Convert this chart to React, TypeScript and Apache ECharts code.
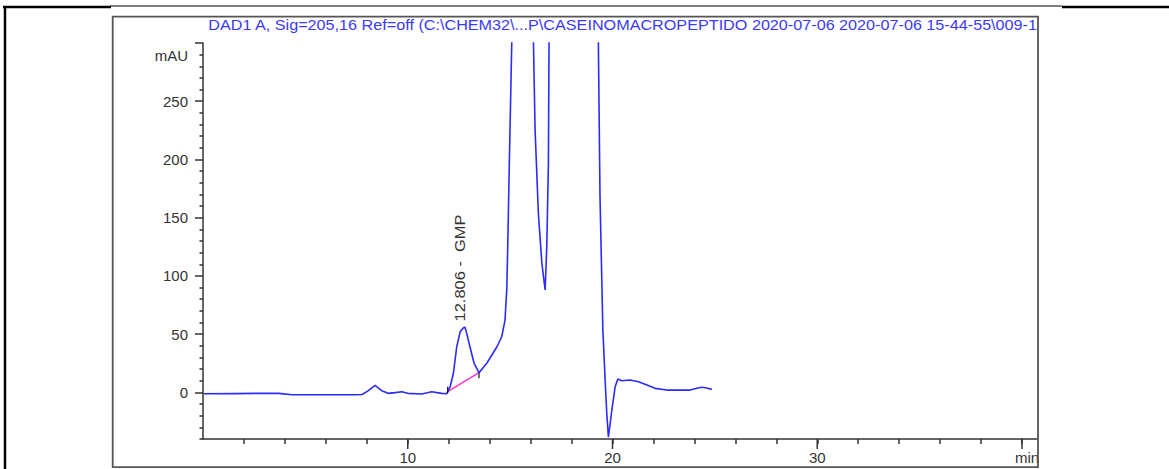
import React, { useEffect, useRef } from "react";
import * as echarts from "echarts";

const TITLE = "DAD1 A, Sig=205,16 Ref=off (C:\\CHEM32\\...P\\CASEINOMACROPEPTIDO 2020-07-06 2020-07-06 15-44-55\\009-1";
const PEAK_LABEL = "12.806 -  GMP";

const TIME = [0.05, 1.5, 2.9, 3.7, 4.35, 5.5, 7.4, 7.77, 8.08, 8.4, 8.73, 9.04, 9.38, 9.71, 10.0, 10.68, 11.17, 11.66, 11.9,
  11.95, 12.07, 12.23, 12.39, 12.56, 12.72, 12.8, 12.88, 13.04, 13.24, 13.48, 13.86, 14.35, 14.59, 14.75, 14.84, 14.9, 14.96, 15.08,
  15.2, 16.0, 16.14, 16.22, 16.38, 16.55, 16.71, 16.79, 16.87, 16.9, 17.0, 19.2, 19.31, 19.39, 19.53, 19.64, 19.72, 19.8, 19.97,
  20.13, 20.26, 20.45, 20.86, 21.27, 21.68, 22.08, 22.65, 23.3, 23.79, 24.12, 24.36, 24.6, 24.85];
const SIGNAL = [-1.2, -1.0, -0.8, -0.8, -2, -2, -2, -1.8, 1.5, 6, 1.5, -0.8, -0.2, 0.6, -0.8, -1.4, 0.6, -0.8, -1.2,
  0.6, 4.9, 16.4, 39, 52, 55.5, 56, 50.7, 39, 25, 16.9, 25, 39, 47.8, 62, 90, 140, 196, 300,
  700, 700, 300, 225, 153.7, 110.8, 88, 125, 196.6, 300, 700, 700, 300, 168, 53.6, 10.6, -18, -38.5, -15,
  4.9, 11.5, 10, 10.6, 9.2, 6.4, 3.5, 2, 2, 2, 3.5, 4.4, 3.8, 2.6];

const BASELINE_TIME = [11.95, 13.48];
const BASELINE_SIGNAL = [0.6, 16.9];
const START_TICK_TIME = [11.95, 11.95];
const START_TICK_SIGNAL = [4.9, -0.8];
const END_TICK_TIME = [13.48, 13.48];
const END_TICK_SIGNAL = [16.9, 12.1];

const Y_MIN = -40;
const Y_MAX = 300;
const X_MIN = 0;
const X_MAX = 40;
const Y_LABELS = [0, 50, 100, 150, 200, 250];
const Y_MAJOR_TICKS = [0, 50, 100, 150, 200, 250, 300];
const Y_MINOR_TICKS = [-40, -30, -20, -10, 10, 20, 30, 40, 60, 70, 80, 90, 110, 120, 130, 140, 160, 170, 180, 190,
  210, 220, 230, 240, 260, 270, 280, 290];
const X_LABELS = [10, 20, 30, 40];
const X_MAJOR_TICKS = [10, 20, 30, 40];
const X_ALL_TICKS = [2, 4, 6, 8, 10, 12, 14, 16, 18, 20, 22, 24, 26, 28, 30, 32, 34, 36, 38, 40];

const FONT = '"Liberation Sans", Arial, sans-serif';
const GRID_LEFT = 203;
const GRID_TOP = 43;
const GRID_W = 819;
const GRID_H = 396;
const BOX_RIGHT = 1038;

function pairs(xs: number[], ys: number[]) {
  return xs.map((x, i) => [x, ys[i]]);
}

function measure(text: string, size: number) {
  const c = document.createElement("canvas").getContext("2d");
  if (!c) return text.length * size * 0.55;
  c.font = `${size}px ${FONT}`;
  return c.measureText(text).width;
}

export default function App() {
  const ref = useRef<HTMLDivElement>(null);
  useEffect(() => {
    document.body.style.margin = "0";
    if (!ref.current) return;
    const chart = echarts.init(ref.current, null, { renderer: "svg" });
    const titleScale = 830 / measure(TITLE, 14);
    const peakScale = 107 / measure(PEAK_LABEL, 14);
    const axisColor = "#333";
    const labelStyle = { color: "#333", fontSize: 15, fontFamily: FONT };
    chart.setOption({
      animation: false,
      grid: { left: GRID_LEFT, top: GRID_TOP, width: GRID_W, height: GRID_H, containLabel: false },
      xAxis: [
        {
          type: "value", min: X_MIN, max: X_MAX, interval: 10, position: "bottom",
          axisLine: { show: true, onZero: false, lineStyle: { color: axisColor, width: 1.5 } },
          axisTick: { show: true, length: 5, customValues: X_ALL_TICKS, lineStyle: { color: axisColor, width: 1.5 } },
          axisLabel: {
            ...labelStyle, margin: 11, customValues: X_LABELS,
            formatter: (v: number) => (v === 40 ? "{m|min}" : String(v)),
            rich: { m: { ...labelStyle, padding: [0, 0, 0, 10] } },
          },
          splitLine: { show: false },
        },
      ],
      yAxis: [
        {
          type: "value", min: Y_MIN, max: Y_MAX, position: "left",
          axisLine: { show: true, onZero: false, lineStyle: { color: axisColor, width: 1.5 } },
          axisTick: { show: true, length: 8, customValues: Y_MAJOR_TICKS, lineStyle: { color: axisColor, width: 1.5 } },
          axisLabel: { ...labelStyle, margin: 15, customValues: Y_LABELS },
          splitLine: { show: false },
        },
        {
          type: "value", min: Y_MIN, max: Y_MAX, position: "right", offset: -GRID_W,
          axisLine: { show: false, onZero: false },
          axisTick: { show: true, inside: true, length: 3.5, customValues: Y_MINOR_TICKS, lineStyle: { color: axisColor, width: 1.5 } },
          axisLabel: { show: false },
          splitLine: { show: false },
        },
      ],
      series: [
        {
          type: "line", data: pairs(TIME, SIGNAL), showSymbol: false, clip: true,
          lineStyle: { color: "#2b2bff", width: 1.6 }, z: 3,
        },
        {
          type: "line", data: pairs(BASELINE_TIME, BASELINE_SIGNAL), showSymbol: false,
          lineStyle: { color: "#ff33cc", width: 1.5 }, z: 2,
        },
        {
          type: "line", data: pairs(START_TICK_TIME, START_TICK_SIGNAL), showSymbol: false,
          lineStyle: { color: "#111", width: 1.2 }, z: 4,
        },
        {
          type: "line", data: pairs(END_TICK_TIME, END_TICK_SIGNAL), showSymbol: false,
          lineStyle: { color: "#111", width: 1.2 }, z: 4,
        },
      ],
    });

    const axisY = chart.convertToPixel({ yAxisIndex: 0 }, Y_MIN) as number;
    const majorX = X_MAJOR_TICKS.map((v) => ({
      type: "line",
      shape: {
        x1: chart.convertToPixel({ xAxisIndex: 0 }, v) as number, y1: axisY,
        x2: chart.convertToPixel({ xAxisIndex: 0 }, v) as number, y2: axisY + 10,
      },
      style: { stroke: axisColor, lineWidth: 1.5 },
    }));

    chart.setOption({
      graphic: [
        { type: "line", shape: { x1: 5, y1: 6, x2: 5, y2: 469 }, style: { stroke: "#000", lineWidth: 2.5 } },
        { type: "line", shape: { x1: 3, y1: 7, x2: 111, y2: 7 }, style: { stroke: "#000", lineWidth: 2.5 } },
        { type: "line", shape: { x1: 110, y1: 6, x2: 1062, y2: 6 }, style: { stroke: "#000", lineWidth: 1.2 } },
        { type: "line", shape: { x1: 1062, y1: 7, x2: 1169, y2: 7 }, style: { stroke: "#000", lineWidth: 2.5 } },
        {
          type: "line",
          shape: { x1: GRID_LEFT + GRID_W, y1: axisY, x2: BOX_RIGHT, y2: axisY },
          style: { stroke: axisColor, lineWidth: 1.5 },
        },
        ...majorX,
        {
          type: "rect", shape: { x: 112.7, y: 16.7, width: BOX_RIGHT - 112.7, height: 450.5 },
          style: { fill: "none", stroke: "#555", lineWidth: 1.8 }, z: 10,
        },
        {
          type: "text", x: 1037, y: 25, scaleX: titleScale,
          style: { text: TITLE, fill: "#3a3aff", font: `14px ${FONT}`, align: "right", verticalAlign: "middle" },
        },
        {
          type: "text", x: 188, y: 55,
          style: { text: "mAU", fill: "#333", font: `15px ${FONT}`, align: "right", verticalAlign: "middle" },
        },
        {
          type: "text", x: 460, y: 268, rotation: Math.PI / 2, scaleX: peakScale,
          style: { text: PEAK_LABEL, fill: "#333", font: `14px ${FONT}`, align: "center", verticalAlign: "middle" },
        },
      ],
    });
    return () => chart.dispose();
  }, []);
  return <div ref={ref} style={{ width: 1169, height: 469 }} />;
}
